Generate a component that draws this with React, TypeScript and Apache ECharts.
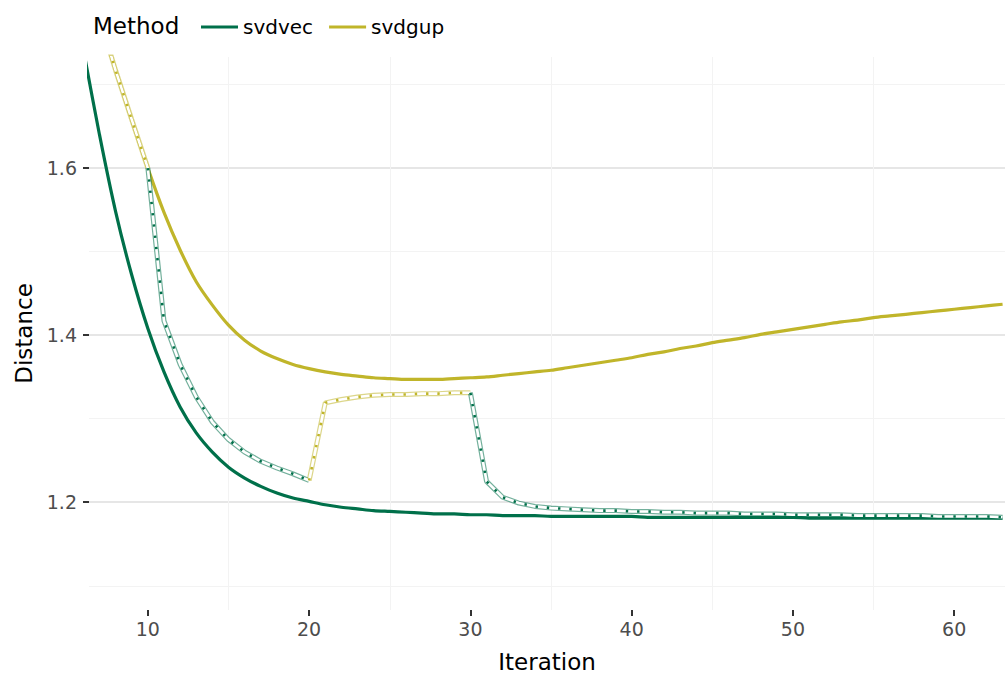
import React, { useEffect, useRef } from "react";
import * as echarts from "echarts";

// Iteration numbers (x values)
const iterations = [
  6, 7, 8, 9, 10, 11, 12, 13, 14, 15, 16, 17, 18, 19, 20, 21, 22, 23, 24, 25,
  26, 27, 28, 29, 30, 31, 32, 33, 34, 35, 36, 37, 38, 39, 40, 41, 42, 43, 44, 45,
  46, 47, 48, 49, 50, 51, 52, 53, 54, 55, 56, 57, 58, 59, 60, 61, 62, 63,
];

// Method "svdvec"
const svdvecValues = [
  1.742, 1.64, 1.548, 1.472, 1.408, 1.356, 1.314, 1.283, 1.26, 1.242, 1.229, 1.219,
  1.211, 1.205, 1.201, 1.197, 1.194, 1.192, 1.19, 1.189, 1.188, 1.187, 1.186, 1.186,
  1.185, 1.185, 1.184, 1.184, 1.184, 1.183, 1.183, 1.183, 1.183, 1.183, 1.183, 1.182,
  1.182, 1.182, 1.182, 1.182, 1.182, 1.182, 1.182, 1.182, 1.182, 1.181, 1.181, 1.181,
  1.181, 1.181, 1.181, 1.181, 1.181, 1.181, 1.181, 1.181, 1.181, 1.181,
];

// Method "svdgup"
const svdgupValues = [
  1.845, 1.78, 1.717, 1.658, 1.6, 1.547, 1.502, 1.464, 1.436, 1.412, 1.394, 1.381,
  1.372, 1.365, 1.36, 1.356, 1.353, 1.351, 1.349, 1.348, 1.347, 1.347, 1.347, 1.348,
  1.349, 1.35, 1.352, 1.354, 1.356, 1.358, 1.361, 1.364, 1.367, 1.37, 1.373, 1.377,
  1.38, 1.384, 1.387, 1.391, 1.394, 1.397, 1.401, 1.404, 1.407, 1.41, 1.413, 1.416,
  1.418, 1.421, 1.423, 1.425, 1.427, 1.429, 1.431, 1.433, 1.435, 1.437,
];

// Hybrid run, switching method every ten iterations
const hybridValues = [
  1.845, 1.78, 1.717, 1.658, 1.6, 1.417, 1.365, 1.326, 1.296, 1.275, 1.26, 1.249,
  1.241, 1.234, 1.226, 1.319, 1.323, 1.326, 1.328, 1.329, 1.329, 1.33, 1.33, 1.331,
  1.331, 1.225, 1.206, 1.199, 1.195, 1.193, 1.192, 1.191, 1.19, 1.19, 1.189, 1.189,
  1.188, 1.188, 1.187, 1.187, 1.187, 1.186, 1.186, 1.186, 1.185, 1.185, 1.185, 1.185,
  1.184, 1.184, 1.184, 1.184, 1.184, 1.183, 1.183, 1.183, 1.183, 1.182,
];
// Phases of the hybrid run: method used up to (and including) iteration `to`
const hybridPhases = [
  { method: "svdgup", to: 10 },
  { method: "svdvec", to: 20 },
  { method: "svdgup", to: 30 },
  { method: "svdvec", to: 63 },
];

const xTicks = [10, 20, 30, 40, 50, 60];
const yTicks = [1.2, 1.4, 1.6];

const COLORS: Record<string, string> = {
  svdvec: "#00704a",
  svdgup: "#c0b52a",
};
const FONT = "DejaVu Sans";

export default function App() {
  const ref = useRef<HTMLDivElement>(null);

  useEffect(() => {
    document.body.style.margin = "0";
    if (!ref.current) return;
    const chart = echarts.init(ref.current, null, { renderer: "svg" });

    const solid = (name: string, vals: number[]) => ({
      name,
      type: "line",
      data: iterations.map((x, i) => [x, vals[i]]),
      showSymbol: false,
      symbol: "none",
      smooth: 0.3,
      z: 2,
      lineStyle: { width: 3.2, color: COLORS[name] },
      itemStyle: { color: COLORS[name] },
      emphasis: { disabled: true },
    });

    // build hybrid segments
    const hybridSeries: any[] = [];
    let startIdx = 0;
    hybridPhases.forEach((ph, k) => {
      const endIdx = iterations.indexOf(ph.to);
      const from = k === 0 ? 0 : startIdx;
      const pts = [];
      for (let i = from; i <= endIdx; i++) pts.push([iterations[i], hybridValues[i]]);
      startIdx = endIdx;
      const c = COLORS[ph.method];
      const base = {
        type: "line",
        data: pts,
        showSymbol: false,
        symbol: "none",
        silent: true,
        emphasis: { disabled: true },
      };
      hybridSeries.push({ ...base, z: 3, lineStyle: { width: 5, color: c, opacity: 0.55 } });
      hybridSeries.push({ ...base, z: 4, lineStyle: { width: 2.6, color: "#ffffff" } });
      hybridSeries.push({ ...base, z: 5, lineStyle: { width: 2.6, color: c, type: [2.4, 8.9] } });
    });

    chart.setOption({
      animation: false,
      backgroundColor: "#ffffff",
      textStyle: { fontFamily: FONT },
      grid: { left: 89, right: 0, top: 57, bottom: 67 },
      graphic: [
        {
          type: "text",
          left: 93,
          top: 14,
          style: { text: "Method", fontSize: 23, fill: "#000000", fontFamily: FONT },
        },
      ],
      legend: {
        left: 196,
        top: 12,
        icon: "rect",
        itemWidth: 37,
        itemHeight: 3,
        itemGap: 16,
        data: ["svdvec", "svdgup"],
        textStyle: { fontSize: 20, color: "#000000", fontFamily: FONT },
      },
      xAxis: {
        type: "value",
        min: 6.35,
        max: 63.15,
        splitNumber: 5,
        minInterval: 10,
        maxInterval: 10,
        name: "Iteration",
        nameLocation: "middle",
        nameGap: 40,
        nameTextStyle: { fontSize: 23, color: "#000000", fontFamily: FONT },
        axisLine: { show: false },
        axisTick: {
          show: true,
          length: 6,
          customValues: xTicks,
          lineStyle: { color: "#333333", width: 2 },
        },
        axisLabel: {
          customValues: xTicks,
          color: "#4d4d4d",
          fontSize: 19,
          margin: 9,
          fontFamily: FONT,
        },
        splitLine: { show: false },
        minorTick: { show: false, splitNumber: 2 },
        minorSplitLine: { show: true, lineStyle: { color: "#f3f3f3", width: 1 } },
      },
      yAxis: {
        type: "value",
        min: 1.071,
        max: 1.733,
        splitNumber: 3,
        minInterval: 0.2,
        maxInterval: 0.2,
        name: "Distance",
        nameLocation: "middle",
        nameGap: 54,
        nameTextStyle: { fontSize: 23, color: "#000000", fontFamily: FONT },
        axisLine: { show: false },
        axisTick: {
          show: true,
          length: 6,
          customValues: yTicks,
          lineStyle: { color: "#333333", width: 2 },
        },
        axisLabel: {
          customValues: yTicks,
          color: "#4d4d4d",
          fontSize: 19,
          margin: 12,
          fontFamily: FONT,
          formatter: (v: number) => v.toFixed(1),
        },
        splitLine: {
          show: true,
          lineStyle: { color: "#e6e6e6", width: 2 },
        },
        minorTick: { show: false, splitNumber: 2 },
        minorSplitLine: { show: true, lineStyle: { color: "#f3f3f3", width: 1 } },
      },
      series: [solid("svdvec", svdvecValues), solid("svdgup", svdgupValues), ...hybridSeries],
    });

    return () => chart.dispose();
  }, []);

  return <div ref={ref} style={{ width: 1005, height: 678 }} />;
}
